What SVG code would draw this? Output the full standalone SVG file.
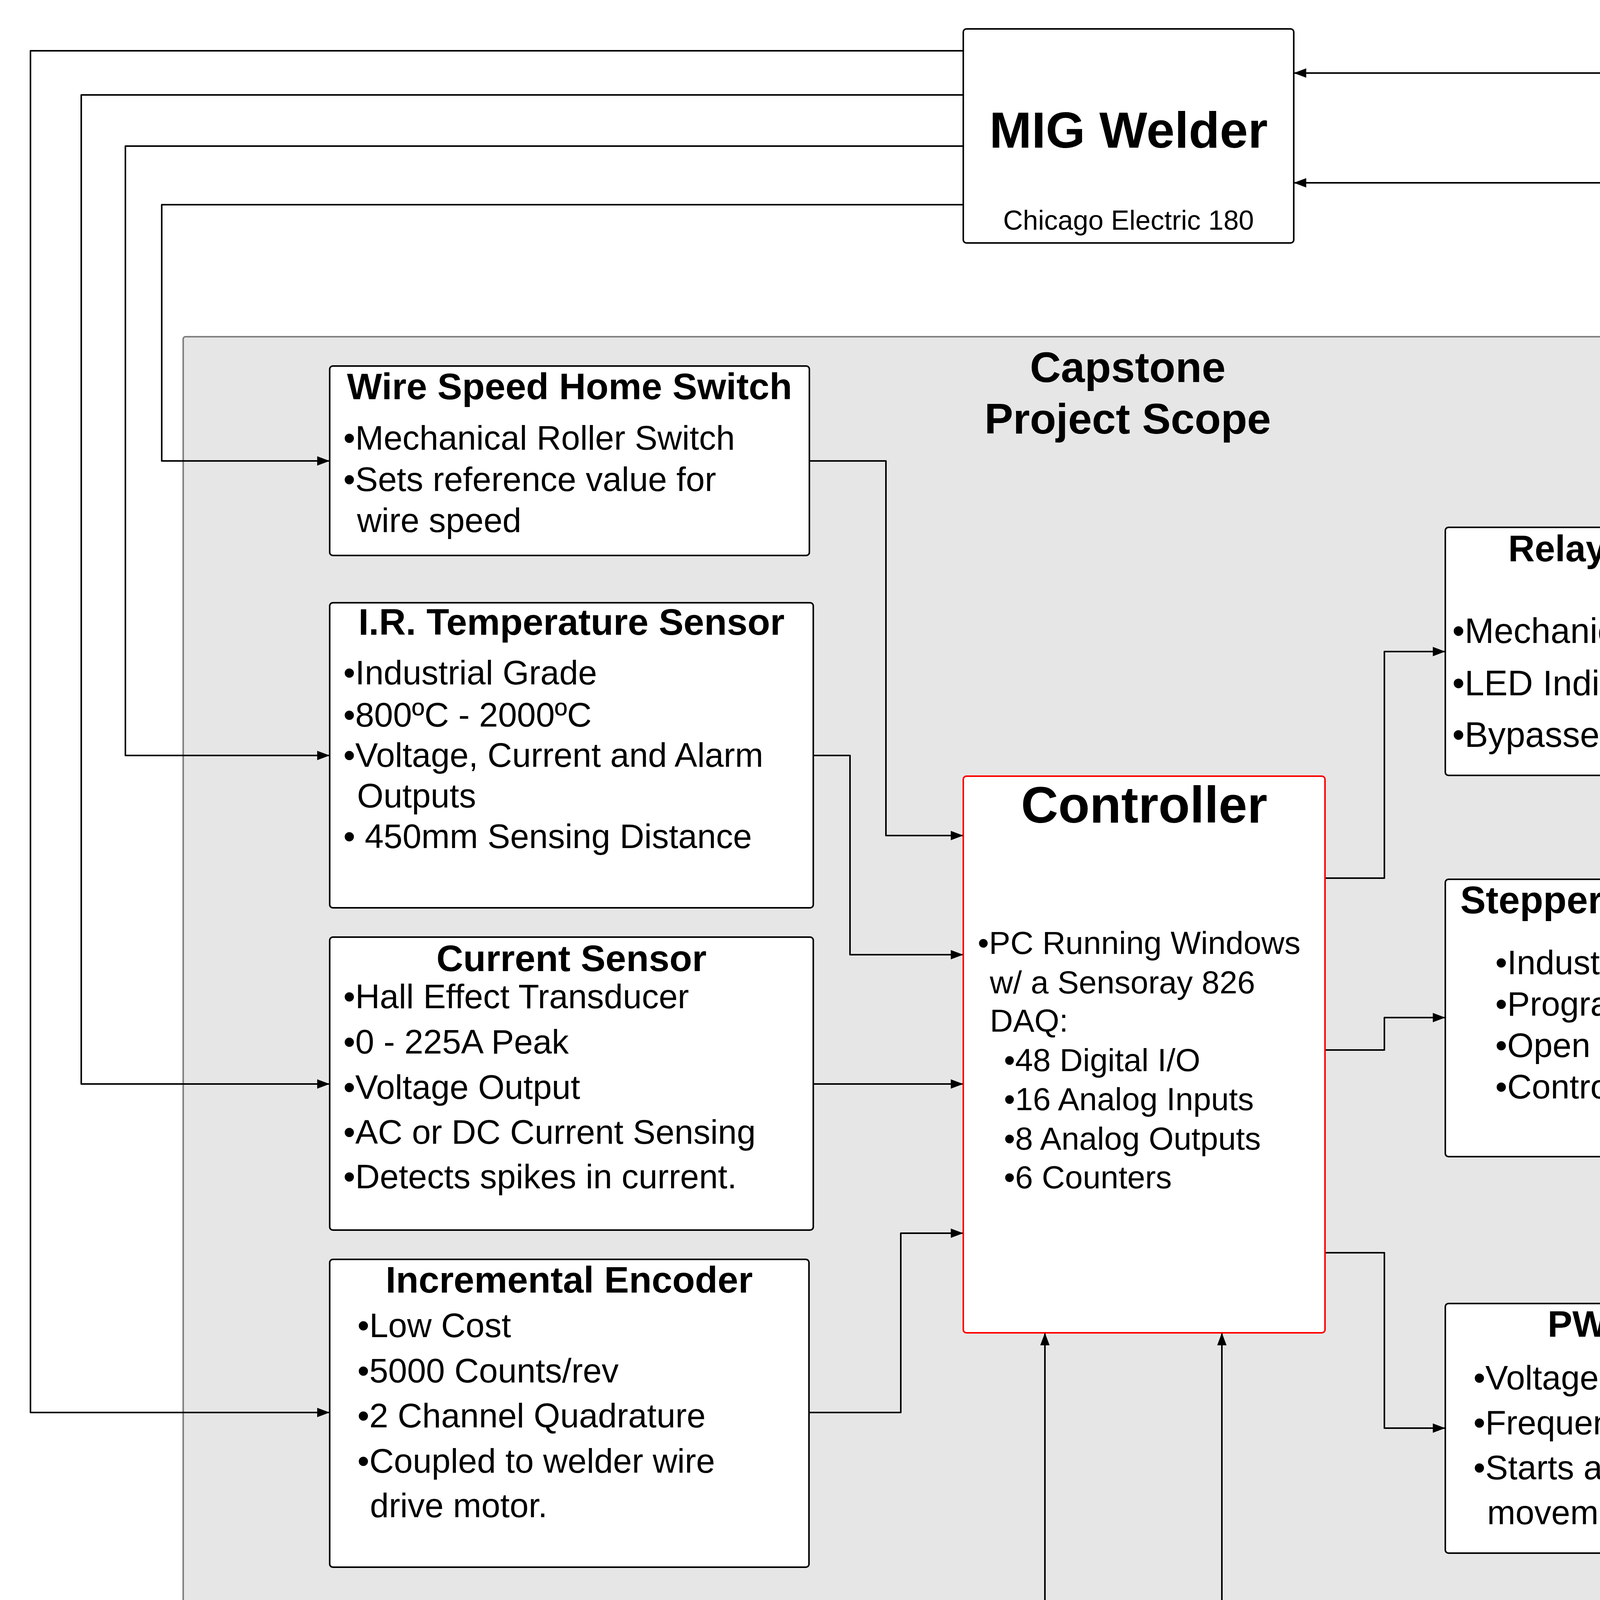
<svg xmlns="http://www.w3.org/2000/svg" width="5631" height="5588" viewBox="0 0 5631 5588">
<style>
text{font-family:"Liberation Sans",Arial,sans-serif;fill:#000;white-space:pre}
.t{font-weight:bold;text-anchor:middle}
.b{font-size:87px}
.box{fill:#fff;stroke:#000;stroke-width:4}
.ctl{fill:#fff;stroke:#ff0000;stroke-width:4}
.c{fill:none;stroke:#000;stroke-width:4;stroke-linejoin:round}
</style>
<defs>
<marker id="ah" markerWidth="8" markerHeight="6" refX="8" refY="3" orient="auto" markerUnits="strokeWidth">
<path d="M0,0 L8,3 L0,6 Z" fill="#000"/>
</marker>
</defs>
<rect width="5631" height="5588" fill="#fff"/>
<g id="scope">
<rect x="469" y="862" width="4836" height="3635" rx="6" fill="#e6e6e6" stroke="#808080" stroke-width="4"/>
<text class="t" x="2887" y="978" font-size="110">Capstone</text>
<text class="t" x="2887" y="1110" font-size="110">Project Scope</text>
</g>
<g id="connectors">
<path class="c" marker-end="url(#ah)" d="M2466 130 H78 V3616 H844"/>
<path class="c" marker-end="url(#ah)" d="M2466 243 H208 V2775 H844"/>
<path class="c" marker-end="url(#ah)" d="M2466 374 H321 V1934 H844"/>
<path class="c" marker-end="url(#ah)" d="M2466 524 H414 V1180 H844"/>
<path class="c" marker-end="url(#ah)" d="M2072 1180 H2268 V2139 H2466"/>
<path class="c" marker-end="url(#ah)" d="M2082 1934 H2176 V2444 H2466"/>
<path class="c" marker-end="url(#ah)" d="M2082 2775 H2466"/>
<path class="c" marker-end="url(#ah)" d="M2071 3616 H2306 V3157 H2466"/>
<path class="c" marker-end="url(#ah)" d="M3392 2248 H3544 V1668 H3700"/>
<path class="c" marker-end="url(#ah)" d="M3392 2688 H3544 V2605 H3700"/>
<path class="c" marker-end="url(#ah)" d="M3392 3207 H3544 V3656 H3700"/>
<path class="c" marker-end="url(#ah)" d="M4937 1668 H5462 V468 H3312"/>
<path class="c" marker-end="url(#ah)" d="M4937 2605 H5555 V187 H3312"/>
<path class="c" marker-end="url(#ah)" d="M4937 3656 H5553 V5224 H3312"/>
<path class="c" marker-end="url(#ah)" d="M2466 5362 H95 V4236 H2675 V3412"/>
<path class="c" marker-end="url(#ah)" d="M2466 5117 H245 V4404 H3128 V3412"/>
<text x="1419" y="4188" font-size="95" text-anchor="middle">Relocate Mode</text>
<text x="1421" y="4363" font-size="95" text-anchor="middle">Deposit Mode</text>
<text x="3862" y="5161" font-size="88">CNC Runspeed</text>
</g>
<g id="mig-welder">
<rect class="box" x="2466" y="74" width="846" height="548" rx="8"/>
<text class="t" x="2889" y="378" font-size="130">MIG Welder</text>
<text x="2889" y="588" font-size="70" text-anchor="middle">Chicago Electric 180</text>
</g>
<g id="wire-speed-home-switch">
<rect class="box" x="844" y="937" width="1228" height="485" rx="8"/>
<text class="t" x="1458" y="1022" font-size="95">Wire Speed Home Switch</text>
<text class="b" x="879" y="1151">•Mechanical Roller Switch</text>
<text class="b" x="879" y="1257">•Sets reference value for</text>
<text class="b" x="914" y="1362">wire speed</text>
</g>
<g id="ir-temperature-sensor">
<rect class="box" x="844" y="1543" width="1238" height="781" rx="8"/>
<text class="t" x="1463" y="1625" font-size="95">I.R. Temperature Sensor</text>
<text class="b" x="879" y="1752">•Industrial Grade</text>
<text class="b" x="879" y="1860">•800ºC - 2000ºC</text>
<text class="b" x="879" y="1963">•Voltage, Current and Alarm</text>
<text class="b" x="914" y="2067">Outputs</text>
<text class="b" x="879" y="2171">• 450mm Sensing Distance</text>
</g>
<g id="current-sensor">
<rect class="box" x="844" y="2399" width="1238" height="750" rx="8"/>
<text class="t" x="1463" y="2486" font-size="95">Current Sensor</text>
<text class="b" x="879" y="2581">•Hall Effect Transducer</text>
<text class="b" x="879" y="2697">•0 - 225A Peak</text>
<text class="b" x="879" y="2813">•Voltage Output</text>
<text class="b" x="879" y="2928">•AC or DC Current Sensing</text>
<text class="b" x="879" y="3042">•Detects spikes in current.</text>
</g>
<g id="incremental-encoder">
<rect class="box" x="844" y="3224" width="1227" height="788" rx="8"/>
<text class="t" x="1457" y="3309" font-size="95">Incremental Encoder</text>
<text class="b" x="915" y="3423">•Low Cost</text>
<text class="b" x="915" y="3539">•5000 Counts/rev</text>
<text class="b" x="915" y="3654">•2 Channel Quadrature</text>
<text class="b" x="915" y="3770">•Coupled to welder wire</text>
<text class="b" x="947" y="3884">drive motor.</text>
</g>
<g id="controller">
<rect class="ctl" x="2466" y="1987" width="926" height="1425" rx="8"/>
<text class="t" x="2929" y="2106" font-size="132">Controller</text>
<text x="2503" y="2442" font-size="82">•PC Running Windows</text>
<text x="2534" y="2543" font-size="82">w/ a Sensoray 826</text>
<text x="2534" y="2641" font-size="82">DAQ:</text>
<text x="2570" y="2742" font-size="82">•48 Digital I/O</text>
<text x="2570" y="2842" font-size="82">•16 Analog Inputs</text>
<text x="2570" y="2943" font-size="82">•8 Analog Outputs</text>
<text x="2570" y="3042" font-size="82">•6 Counters</text>
</g>
<g id="relay-indication-module">
<rect class="box" x="3700" y="1350" width="1237" height="635" rx="8"/>
<text class="t" x="4318" y="1437" font-size="94">Relay and Indication</text>
<text class="t" x="4318" y="1551" font-size="94">Module</text>
<text x="3718" y="1646" font-size="90">•Mechanical Relay</text>
<text x="3718" y="1780" font-size="90">•LED Indication of CNC State.</text>
<text x="3718" y="1912" font-size="90">•Bypasses welder switch.</text>
</g>
<g id="stepper-motor-controller">
<rect class="box" x="3700" y="2251" width="1237" height="710" rx="8"/>
<text class="t" x="4318" y="2338" font-size="98">Stepper Motor Controller</text>
<text class="b" x="3828" y="2494">•Industrial Grade</text>
<text class="b" x="3828" y="2600">•Programmable  Resolution</text>
<text class="b" x="3828" y="2706">•Open collector control</text>
<text class="b" x="3828" y="2812">•Controls wire speed knob</text>
</g>
<g id="pwm-controller">
<rect class="box" x="3700" y="3337" width="1237" height="639" rx="8"/>
<text class="t" x="4318" y="3422" font-size="95">PWM Controller</text>
<text class="b" x="3772" y="3557">•Voltage input</text>
<text class="b" x="3772" y="3672">•Frequency Output</text>
<text class="b" x="3772" y="3787">•Starts and stops CNC</text>
<text class="b" x="3807" y="3902">movement.</text>
</g>
<g id="cnc">
<rect class="box" x="2466" y="4950" width="846" height="546" rx="8"/>
<text class="t" x="2889" y="5251" font-size="138">CNC</text>
<text x="2889" y="5450" font-size="87" text-anchor="middle">Linux Based Machine</text>
</g>
</svg>
